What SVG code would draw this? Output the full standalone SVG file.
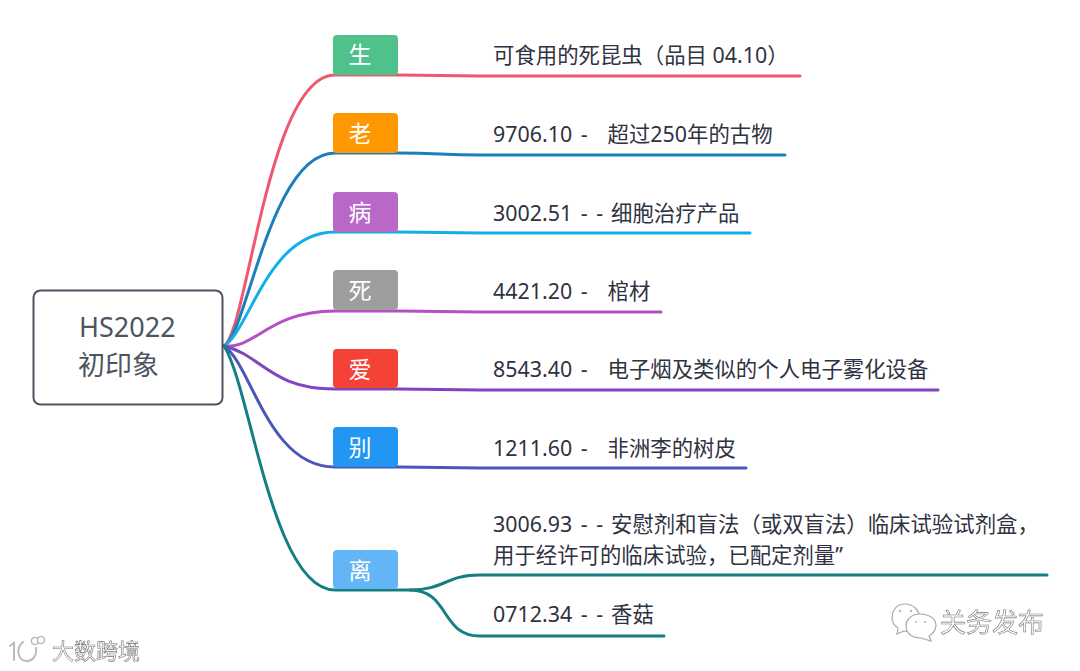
<svg xmlns="http://www.w3.org/2000/svg" width="1080" height="671" viewBox="0 0 1080 671">
<defs><filter id="soft" x="-10%" y="-20%" width="120%" height="140%"><feGaussianBlur stdDeviation="0.5"/></filter></defs>
<style>
text{font-family:"Noto Sans","Noto Sans CJK SC","Open Sans",sans-serif}
.t{font-size:21.400px;fill:#2f3241}
.n{font-size:21.400px;word-spacing:3px}
.l{font-size:23px;fill:#fff;text-anchor:middle}
.c{fill:none;stroke-width:3;stroke-linecap:round}
.m{font-size:27px;fill:#4d5560}
.w{fill:#fff;stroke:#aaa;stroke-width:1.2}
.f{fill:none;stroke:#bbb;stroke-width:2;stroke-linecap:round}
.wt{fill:#fff;stroke:#777;stroke-width:.6}
</style>
<rect width="1080" height="671" fill="#fff"/>
<g id="connectors">
<path class="c" stroke="#f0596d" d="M224 346C248 330 268 75 335 75L398 75C440 75 440 76 480 76L800 76"/>
<path class="c" stroke="#1c7fbd" d="M224 346C247 335 270 153 335 153L398 153C440 153 440 155 480 155L785 155"/>
<path class="c" stroke="#12afe6" d="M224 346C250 330 268 232 335 232L398 232C440 232 440 233 480 233L750 233"/>
<path class="c" stroke="#b450c4" d="M224 346C255 350 268 311 335 311L398 311C440 311 440 312 480 312L661 312"/>
<path class="c" stroke="#7d45be" d="M224 346C262 355 270 389 335 389L398 389C440 389 440 390 480 390L938 390"/>
<path class="c" stroke="#4a56b8" d="M224 346C252 365 268 467 335 467L398 467C440 467 440 468 480 468L746 468"/>
<path class="c" stroke="#147f80" d="M224 346C250 385 272 590 335 590L410 590C445 590 445 575 480 575L1047 575"/>
<path class="c" stroke="#147f80" d="M410 590C450 590 440 636 480 636L664 636"/>
</g>
<g id="root"><rect x="33.500" y="290.500" width="189" height="114" rx="7" fill="#fff" stroke="#4d5560" stroke-width="2"/><text class="m" x="79" y="337">HS2022</text><text class="m" x="78" y="375">初印象</text></g>
<g id="n1"><rect x="333" y="35" width="65" height="40" rx="4" fill="#4fc28c"/><text class="l" x="360" y="63">生</text><text class="t" x="493" y="63">可食用的死昆虫（品目 04.10）</text></g>
<g id="n2"><rect x="333" y="113" width="65" height="40" rx="4" fill="#ff9800"/><text class="l" x="360" y="142">老</text><text class="t" x="493" y="142"><tspan class="n">9706.10 -</tspan><tspan x="607.500">超过250年的古物</tspan></text></g>
<g id="n3"><rect x="333" y="192" width="65" height="40" rx="4" fill="#ba68c8"/><text class="l" x="360" y="221">病</text><text class="t" x="493" y="221"><tspan class="n">3002.51 - -</tspan><tspan x="611">细胞治疗产品</tspan></text></g>
<g id="n4"><rect x="333" y="270" width="65" height="40" rx="4" fill="#9e9e9e"/><text class="l" x="360" y="299">死</text><text class="t" x="493" y="299"><tspan class="n">4421.20 -</tspan><tspan x="607.500">棺材</tspan></text></g>
<g id="n5"><rect x="333" y="349" width="65" height="39" rx="4" fill="#f44336"/><text class="l" x="360" y="378">爱</text><text class="t" x="493" y="377"><tspan class="n">8543.40 -</tspan><tspan x="607.500">电子烟及类似的个人电子雾化设备</tspan></text></g>
<g id="n6"><rect x="333" y="427" width="65" height="40" rx="4" fill="#2196f3"/><text class="l" x="360" y="456">别</text><text class="t" x="493" y="456"><tspan class="n">1211.60 -</tspan><tspan x="607.500">非洲李的树皮</tspan></text></g>
<g id="n7"><rect x="333" y="550" width="65" height="39" rx="4" fill="#64b5f6"/><text class="l" x="360" y="579">离</text><text class="t" x="493" y="532"><tspan class="n">3006.93 - -</tspan><tspan x="611">安慰剂和盲法（或双盲法）临床试验试剂盒，</tspan></text><text class="t" x="493" y="563">用于经许可的临床试验，已配定剂量”</text><text class="t" x="493" y="622"><tspan class="n">0712.34 - -</tspan><tspan x="611">香菇</tspan></text></g>
<g id="watermarks" filter="url(#soft)">
<path class="f" stroke-width="3" d="M10 646L14 643L14 660M23 642C15 649 18 661 27 661C33 661 37 655 36 648"/>
<circle class="w" cx="35" cy="641" r="3.500"/><circle class="w" cx="41" cy="640" r="3.500"/>
<text class="wt" x="52" y="659" font-size="22">大数跨境</text>
<path class="w" d="M905 604C895 604 892 612 892 618C892 623 895 626 898 628L897 634L904 631C908 632 909 632 911 631C925 628 922 604 905 604Z"/>
<path class="w" d="M920 614C910 614 906 621 906 626C906 634 913 638 921 638L931 641L929 636C936 632 937 625 935 621C933 617 927 614 920 614Z"/>
<g fill="#bbb"><circle cx="900" cy="611" r="1.300"/><circle cx="911" cy="611" r="1.300"/><circle cx="916" cy="622" r="1.100"/><circle cx="925" cy="622" r="1.100"/></g>
<text class="wt" x="940" y="632" font-size="26">关务发布</text>
</g>
</svg>
